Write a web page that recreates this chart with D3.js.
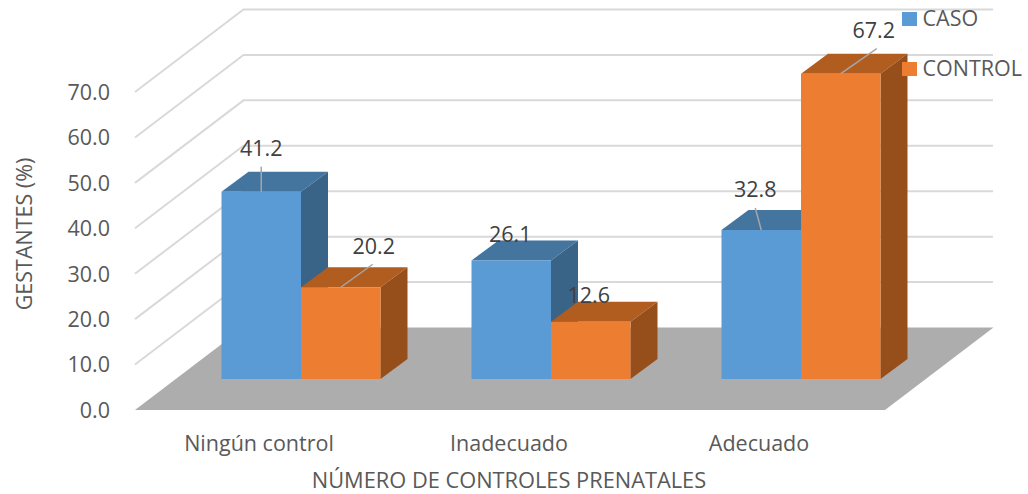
<!DOCTYPE html>
<html>
<head>
<meta charset="utf-8">
<script src="https://cdn.jsdelivr.net/npm/d3@7"></script>
<style>
  body { margin: 0; background: #fff; }
  text { font-family: "Open Sans", sans-serif; }
</style>
</head>
<body>
<div id="chart"></div>
<script>
// data
const categories = ["Ningún control", "Inadecuado", "Adecuado"];
const seriesNames = ["CASO", "CONTROL"];
const caso = [41.2, 26.1, 32.8];
const control = [20.2, 12.6, 67.2];
const yTicks = [0, 10, 20, 30, 40, 50, 60, 70];

const w = 1028, h = 494;
const pxPerUnit = 318 / 70;
const fontSize = 21.5;

// the fake 3d box: depth of the floor and of a single bar
const floorDepth = { dx: 108.5, dy: -82.5 };
const barDepth = { dx: 27, dy: -20 };
const frontY = 410, barBaseY = 379;

const colors = {
  CASO: { front: "#5B9BD5", top: "#44759F", side: "#3A6388" },
  CONTROL: { front: "#ED7D31", top: "#B15D20", side: "#964F1A" }
};

const svg = d3.select("#chart").append("svg")
  .attr("width", w)
  .attr("height", h);

// y scales, one per plane (front edge, bar plane)
const yScale = base => d3.scaleLinear().domain([0, 70]).range([base, base - 70 * pxPerUnit]);
const yFront = yScale(frontY);
const yBar = yScale(barBaseY);

const xFront = d3.scaleBand().domain(categories).range([135, 885]);
const xBar = d3.scaleBand().domain(categories).range([176, 926]);
const xSeries = d3.scaleBand().domain(seriesNames).range([45.5, 204.5]);

// left wall + back wall gridlines
const grid = svg.append("g");
yTicks.filter(d => d > 0).forEach(t => {
  const x0 = 135, y0 = yFront(t);
  const x1 = x0 + floorDepth.dx, y1 = y0 + floorDepth.dy;
  grid.append("polyline")
    .attr("points", [[x0, y0], [x1, y1], [993, y1]].join(" "))
    .attr("fill", "none")
    .attr("stroke", "#D9D9D9")
    .attr("stroke-width", 2);
});

// floor
svg.append("polygon")
  .attr("points", [
    [135, frontY], [885, frontY],
    [885 + floorDepth.dx, frontY + floorDepth.dy],
    [135 + floorDepth.dx, frontY + floorDepth.dy]
  ].join(" "))
  .attr("fill", "#ADADAD");

// bars
const rows = categories.map((c, i) => ({ category: c, CASO: caso[i], CONTROL: control[i] }));

function drawBox(g, x, w, top, base, c) {
  const d = barDepth;
  g.append("polygon")
    .attr("points", [[x, top], [x + w, top], [x + w + d.dx, top + d.dy], [x + d.dx, top + d.dy]].join(" "))
    .attr("fill", c.top);
  g.append("polygon")
    .attr("points", [[x + w, top], [x + w + d.dx, top + d.dy], [x + w + d.dx, base + d.dy], [x + w, base]].join(" "))
    .attr("fill", c.side);
  g.append("rect")
    .attr("x", x).attr("y", top)
    .attr("width", w).attr("height", base - top)
    .attr("fill", c.front);
}

const bars = svg.append("g");
rows.forEach(r => {
  seriesNames.forEach(s => {
    drawBox(bars, xBar(r.category) + xSeries(s), xSeries.bandwidth(), yBar(r[s]), yBar(0), colors[s]);
  });
});

// data labels: nudged by hand from the middle of each bar top, like the original
const labelNudge = {
  CASO: [
    { lx: 0, ly: -43, line: [0, -25] },
    { lx: -1, ly: -26, line: null },
    { lx: -6, ly: -41, line: [-6, -22] }
  ],
  CONTROL: [
    { lx: 33, ly: -41, line: [32, -23] },
    { lx: -2, ly: -26, line: null },
    { lx: 33, ly: -43, line: [36, -25] }
  ]
};

const labels = svg.append("g");
rows.forEach((r, i) => {
  seriesNames.forEach(s => {
    const cx = xBar(r.category) + xSeries(s) + xSeries.bandwidth() / 2;
    const top = yBar(r[s]);
    const n = labelNudge[s][i];
    if (n.line) {
      labels.append("line")
        .attr("x1", cx).attr("y1", top)
        .attr("x2", cx + n.line[0]).attr("y2", top + n.line[1])
        .attr("stroke", "#A6A6A6")
        .attr("stroke-width", 1.5);
    }
    labels.append("text")
      .attr("x", cx + n.lx)
      .attr("y", top + n.ly)
      .attr("dy", "0.35em")
      .attr("text-anchor", "middle")
      .attr("font-size", fontSize)
      .attr("fill", "#404040")
      .text(r[s].toFixed(1));
  });
});

// axes
const yAxis = svg.append("g")
  .attr("transform", "translate(110,0.5)")
  .call(d3.axisLeft(yFront).tickValues(yTicks).tickSize(0).tickPadding(0).tickFormat(d3.format(".1f")));
yAxis.select(".domain").remove();
yAxis.selectAll("text").attr("font-size", fontSize).attr("fill", "#595959").style("font-family", '"Open Sans", sans-serif');

const xAxis = svg.append("g")
  .attr("transform", "translate(-1,436)")
  .call(d3.axisBottom(xFront).tickSize(0).tickPadding(0));
xAxis.select(".domain").remove();
xAxis.selectAll("text").attr("font-size", fontSize).attr("fill", "#595959").style("font-family", '"Open Sans", sans-serif');

svg.append("text")
  .attr("x", 509).attr("y", 480)
  .attr("dy", "0.35em")
  .attr("text-anchor", "middle")
  .attr("font-size", 21.8)
  .attr("fill", "#595959")
  .text("NÚMERO DE CONTROLES PRENATALES");

svg.append("text")
  .attr("transform", "translate(24,234) rotate(-90)")
  .attr("dy", "0.35em")
  .attr("text-anchor", "middle")
  .attr("font-size", fontSize)
  .attr("fill", "#595959")
  .text("GESTANTES (%)");

// legend
const legendY = d3.scalePoint().domain(seriesNames).range([19, 69]);
const legend = svg.append("g");
seriesNames.forEach(s => {
  legend.append("rect")
    .attr("x", 902).attr("y", legendY(s) - 7)
    .attr("width", 15).attr("height", 14)
    .attr("fill", colors[s].front);
  legend.append("text")
    .attr("x", 922.5).attr("y", legendY(s) - 1)
    .attr("dy", "0.35em")
    .attr("font-size", fontSize)
    .attr("fill", "#595959")
    .text(s);
});
</script>
</body>
</html>
